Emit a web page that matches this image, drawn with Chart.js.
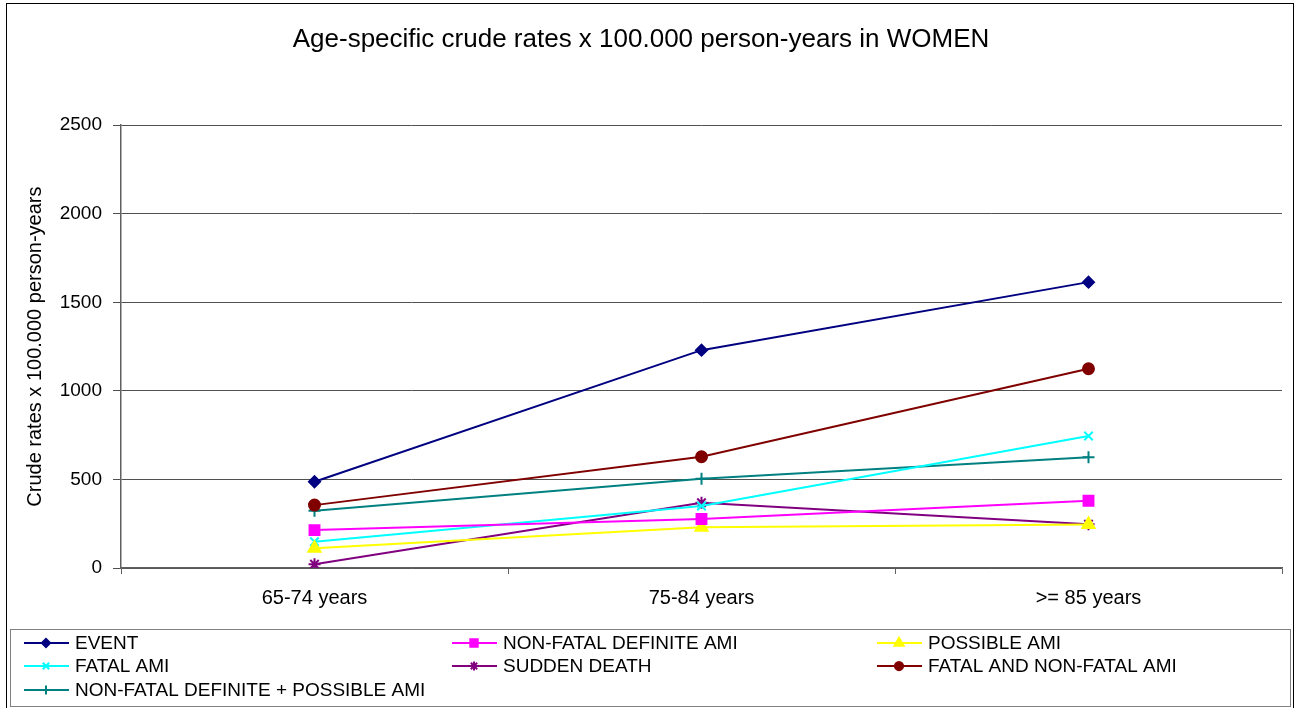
<!DOCTYPE html>
<html>
<head>
<meta charset="utf-8">
<script src="https://cdn.jsdelivr.net/npm/chart.js@4.4.0/dist/chart.umd.min.js"></script>
<style>
  html, body { margin: 0; padding: 0; background: #fff; }
  #wrap { width: 1296px; height: 708px; position: relative; }
</style>
</head>
<body>
<div id="wrap"><canvas id="myChart"></canvas></div>
<script>
"use strict";
{
    const ageGroups = ['65-74 years', '75-84 years', '>= 85 years'];

    const event = [487, 1230, 1614];
    const nonFatalDefinite = [214, 277, 380];
    const possibleAmi = [111, 230, 245];
    const fatalAmi = [148, 350, 745];
    const suddenDeath = [21, 368, 247];
    const fatalAndNonFatal = [355, 628, 1125];
    const nonFatalPlusPossible = [323, 504, 625];

    const seriesNames = [
        'EVENT', 'NON-FATAL DEFINITE AMI', 'POSSIBLE AMI',
        'FATAL AMI', 'SUDDEN DEATH', 'FATAL AND NON-FATAL AMI',
        'NON-FATAL DEFINITE + POSSIBLE AMI'
    ];
    const seriesData = [event, nonFatalDefinite, possibleAmi, fatalAmi, suddenDeath, fatalAndNonFatal, nonFatalPlusPossible];
    const seriesColors = ['#000080', '#FF00FF', '#FFFF00', '#00FFFF', '#800080', '#800000', '#008080'];
    const seriesMarkers = ['rectRot', 'rect', 'triangle', 'crossRot', 'star', 'circle', 'cross'];
    const markerSizes = [5.5, 7, 7, 6, 6, 5.5, 6];

    const font = 'Liberation Sans, Arial, sans-serif';

    const datasets = seriesNames.map((name, i) => ({
        label: name,
        data: seriesData[i],
        borderColor: seriesColors[i],
        backgroundColor: seriesColors[i],
        pointStyle: seriesMarkers[i],
        pointRadius: markerSizes[i],
        pointBorderWidth: 2,
        borderWidth: 2,
        tension: 0
    }));

    // legend in three columns plus the outer frame
    const frameLegend = {
        id: 'frameLegend',
        afterDraw(chart) {
            const ctx = chart.ctx;
            ctx.save();
            ctx.strokeStyle = '#000';
            ctx.lineWidth = 1;
            ctx.strokeRect(6.5, 3.5, 1287, 706);
            ctx.strokeStyle = '#808080';
            ctx.strokeRect(10.5, 629.5, 1280, 77);
            const colX = [24, 452, 877];
            const rowY = [643, 666, 690];
            ctx.font = '19px ' + font;
            ctx.textBaseline = 'middle';
            seriesNames.forEach((name, i) => {
                const x = colX[i % 3];
                const y = rowY[Math.floor(i / 3)];
                ctx.strokeStyle = seriesColors[i];
                ctx.fillStyle = seriesColors[i];
                ctx.lineWidth = 2;
                ctx.beginPath();
                ctx.moveTo(x, y);
                ctx.lineTo(x + 45, y);
                ctx.stroke();
                Chart.helpers.drawPoint(ctx, {
                    pointStyle: seriesMarkers[i],
                    radius: markerSizes[i] * 0.75,
                    rotation: 0,
                    borderWidth: 1.5
                }, x + 22, y);
                ctx.fillStyle = '#000';
                ctx.fillText(name, x + 51, y + 1);
            });
            ctx.restore();
        }
    };

    const config = {
        type: 'line',
        data: { labels: ageGroups, datasets: datasets },
        options: {
            responsive: true,
            maintainAspectRatio: false,
            animation: false,
            layout: { padding: { left: 0, right: 14, top: 0, bottom: 0 } },
            plugins: {
                legend: { display: false },
                tooltip: { enabled: false },
                title: {
                    display: true,
                    text: 'Age-specific crude rates x 100.000 person-years in WOMEN',
                    color: '#000',
                    font: { family: font, size: 26, weight: 'normal' },
                    padding: { top: 24, bottom: 70 }
                }
            },
            scales: {
                x: {
                    offset: true,
                    grid: {
                        offset: true,
                        drawOnChartArea: false,
                        drawTicks: true,
                        tickLength: 6,
                        color: '#606060'
                    },
                    border: { display: true, color: '#606060', width: 1.5 },
                    ticks: { color: '#000', font: { family: font, size: 20 }, padding: 12 },
                    afterFit(scale) { scale.height = 140; }
                },
                y: {
                    min: 0,
                    max: 2500,
                    ticks: {
                        stepSize: 500,
                        color: '#000',
                        font: { family: font, size: 19 },
                        padding: 11,
                        callback: value => String(value)
                    },
                    grid: { color: '#505050', tickLength: 8, lineWidth: 1 },
                    border: { display: true, color: '#606060', width: 1.5 },
                    title: {
                        display: true,
                        text: 'Crude rates x 100.000 person-years',
                        color: '#000',
                        font: { family: font, size: 20 },
                        padding: { top: 23, bottom: 0 }
                    },
                    afterFit(scale) { scale.width = 121; }
                }
            }
        },
        plugins: [frameLegend]
    };

    new Chart(document.getElementById('myChart'), config);
}
</script>
</body>
</html>
